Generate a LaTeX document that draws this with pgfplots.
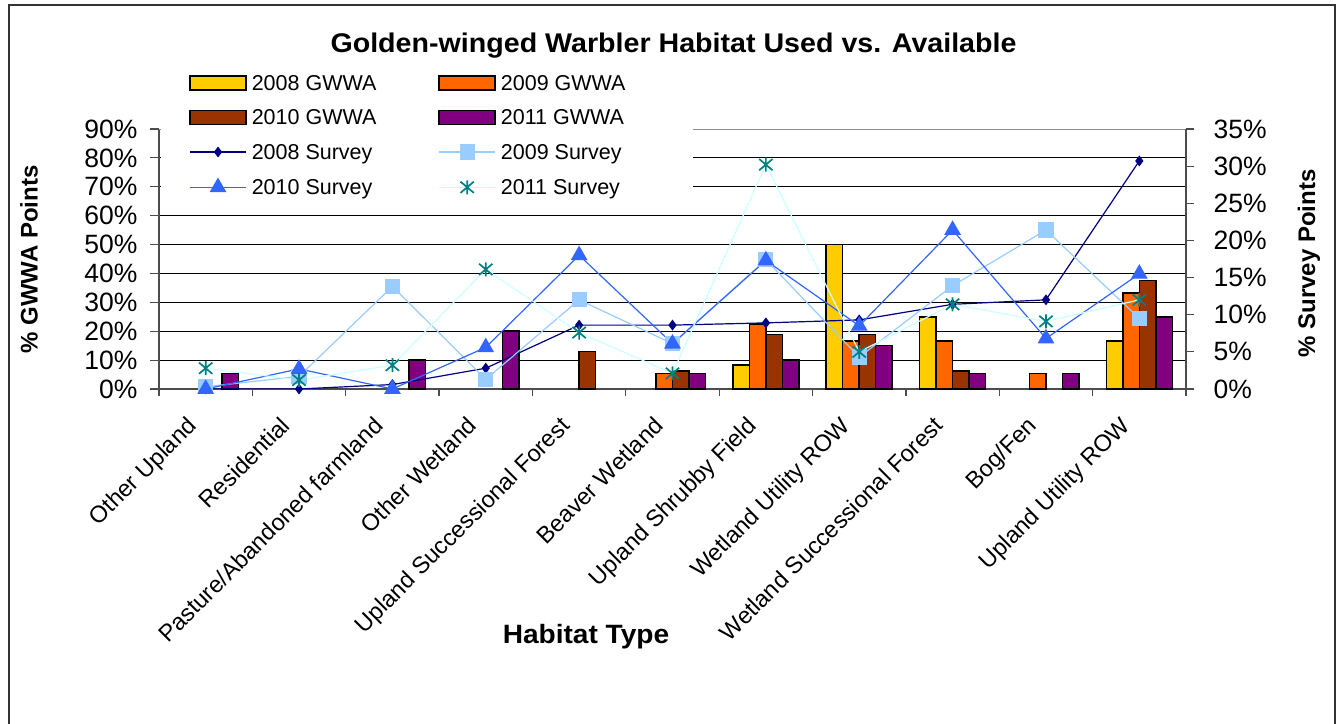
\documentclass[border=0pt]{standalone}
\usepackage{fontspec}
\setmainfont{Liberation Sans}
\usepackage{pgfplots}
\pgfplotsset{compat=1.18}

\definecolor{gw08}{HTML}{FFCC00}
\definecolor{gw09}{HTML}{FF6600}
\definecolor{gw10}{HTML}{993300}
\definecolor{gw11}{HTML}{800080}
\definecolor{sv08}{HTML}{000080}
\definecolor{sv09}{HTML}{99CCFF}
\definecolor{sv10}{HTML}{3366FF}
\definecolor{sv11}{HTML}{CCFFFF}
\definecolor{sv11m}{HTML}{008080}

\newcommand{\fs}[1]{\fontsize{#1}{#1}\selectfont}

% star marker: a cross with a vertical bar through it
\pgfdeclareplotmark{xstar}{%
  \pgfpathmoveto{\pgfqpoint{0pt}{\pgfplotmarksize}}%
  \pgfpathlineto{\pgfqpoint{0pt}{-\pgfplotmarksize}}%
  \pgfpathmoveto{\pgfqpoint{-0.95\pgfplotmarksize}{0.8\pgfplotmarksize}}%
  \pgfpathlineto{\pgfqpoint{0.95\pgfplotmarksize}{-0.8\pgfplotmarksize}}%
  \pgfpathmoveto{\pgfqpoint{-0.95\pgfplotmarksize}{-0.8\pgfplotmarksize}}%
  \pgfpathlineto{\pgfqpoint{0.95\pgfplotmarksize}{0.8\pgfplotmarksize}}%
  \pgfusepathqstroke}

\pgfplotsset{
  habitatframe/.style={
    at={(159pt,334pt)}, anchor=south west,
    scale only axis, width=1027pt, height=260pt,
    xmin=-0.5, xmax=10.5,
    /pgf/number format/assume math mode=true,
    tick align=outside,
    axis line style={black!70, line width=1.6pt},
    tick style={black!70, line width=1.2pt},
  },
  gwwabar/.style={draw=black, line width=1.5pt, fill=#1},
  barkey/.style={legend image code/.code={%
    \draw[draw=black, line width=1.5pt, fill=#1] (0pt,-6.5pt) rectangle (56pt,7.5pt);}},
}

\begin{document}
\begin{tikzpicture}
\useasboundingbox (0,0) rectangle (1340pt,723pt);
\fill[white] (0,0) rectangle (1340pt,723pt);
\draw[black!80, line width=1.5pt] (9pt,-5pt) rectangle (1335pt,718pt);

% Title and axis titles
\node[anchor=base, font=\fs{27}\bfseries] at (673.5pt,670pt)
  {\scalebox{1.06}[1]{Golden-winged Warbler Habitat Used vs. Available}};
\node[anchor=base, font=\fs{26.5}\bfseries] at (586pt,79.7pt)
  {\scalebox{1.06}[1]{Habitat Type}};
\node[rotate=90, font=\fs{24}\bfseries] at (29pt,463.5pt) {\% GWWA Points};
\node[rotate=90, font=\fs{24}\bfseries] at (1309pt,459.5pt) {\% Survey Points};

% GWWA points (left axis)
\begin{axis}[
  habitatframe,
  ymin=0, ymax=90,
  axis x line*=bottom, axis y line*=left,
  xtick={0,...,10},
  xticklabels={Other Upland, Residential, Pasture/Abandoned farmland,
    Other Wetland, Upland Successional Forest, Beaver Wetland,
    Upland Shrubby Field, Wetland Utility ROW, Wetland Successional Forest,
    Bog/Fen, Upland Utility ROW},
  major x tick style={draw=none},
  minor xtick={-0.5,0.5,...,10.5},
  minor tick length=7pt,
  ytick={0,10,...,90},
  major tick length=9pt,
  yticklabel={\pgfmathprintnumber{\tick}\%},
  yticklabel style={font=\fs{26.5}, xshift=-9pt},
  xticklabel style={font=\fs{23.5}, xshift=-20pt, yshift=-17pt, rotate=45,
    anchor=north east, inner sep=0pt},
  ymajorgrids, grid style={black, line width=0.8pt},
  ybar, bar width=16.5pt,
]
\addplot[gwwabar=gw08, bar shift=-24.75pt] coordinates
  {(6,8.3) (7,50.0) (8,25.0) (10,16.7)};
\addplot[gwwabar=gw09, bar shift=-8.25pt] coordinates
  {(5,5.4) (6,22.5) (7,16.7) (8,16.7) (9,5.4) (10,33.3)};
\addplot[gwwabar=gw10, bar shift=8.25pt] coordinates
  {(4,12.9) (5,6.2) (6,18.9) (7,18.9) (8,6.2) (10,37.5)};
\addplot[gwwabar=gw11, bar shift=24.75pt] coordinates
  {(0,5.3) (2,10.0) (3,20.0) (5,5.4) (6,10.0) (7,15.0) (8,5.3) (9,5.4) (10,25.0)};
\draw[black!45, line width=1.5pt] (rel axis cs:0,1) -- (rel axis cs:1,1);
\end{axis}

% legend panel area
\fill[white] (161pt,520pt) rectangle (693pt,663pt);

% Survey points (right axis)
\begin{axis}[
  habitatframe,
  ymin=0, ymax=35,
  axis x line=none, axis y line*=right,
  ytick={0,5,...,35},
  major tick length=8pt,
  yticklabel={\pgfmathprintnumber{\tick}\%},
  yticklabel style={font=\fs{26.5}, xshift=16pt},
  legend image code/.code={%
    \draw[mark repeat=2, mark phase=2, #1]
      plot coordinates {(0pt,0.5pt) (28pt,0.5pt) (56pt,0.5pt)};},
  legend columns=2,
  legend cell align=left,
  legend style={at={(0.002,1.223)}, anchor=north west, fill=none, draw=none,
    font=\fs{21.5}, inner xsep=28pt, inner ysep=4pt,
    row sep=18pt,
    /tikz/column 2/.style={column sep=57pt},
    nodes={inner xsep=5pt, inner ysep=0pt}},
]
\addlegendimage{barkey=gw08}\addlegendentry{2008 GWWA}
\addlegendimage{barkey=gw09}\addlegendentry{2009 GWWA}
\addlegendimage{barkey=gw10}\addlegendentry{2010 GWWA}
\addlegendimage{barkey=gw11}\addlegendentry{2011 GWWA}

\addplot[sv08, line width=1.2pt, mark=diamond*, mark size=4.5pt] coordinates
  {(0,0) (1,0) (2,0.6) (3,2.8) (4,8.6) (5,8.6) (6,8.9) (7,9.3) (8,11.4) (9,12.0) (10,30.7)};
\addlegendentry{2008 Survey}
\addplot[sv09, line width=1.2pt, mark=square*, mark size=7pt] coordinates
  {(0,0.3) (1,1.7) (2,13.8) (3,1.3) (4,12.0) (5,6.1) (6,17.4) (7,4.3) (8,13.9) (9,21.4) (10,9.5)};
\addlegendentry{2009 Survey}
\addplot[sv10, line width=1.2pt, mark=triangle*, mark size=8.5pt] coordinates
  {(0,0) (1,2.7) (2,0) (3,5.6) (4,18.0) (5,6.1) (6,17.3) (7,8.5) (8,21.4) (9,6.8) (10,15.5)};
\addlegendentry{2010 Survey}
\addplot[sv11, line width=1.2pt, mark=xstar, mark size=7pt,
  mark options={draw=sv11m, line width=1.7pt}] coordinates
  {(0,2.8) (1,1.2) (2,3.2) (3,16.1) (4,7.6) (5,2.1) (6,30.2) (7,5.0) (8,11.4) (9,9.1) (10,12.0)};
\addlegendentry{2011 Survey}
\end{axis}
\end{tikzpicture}
\end{document}
